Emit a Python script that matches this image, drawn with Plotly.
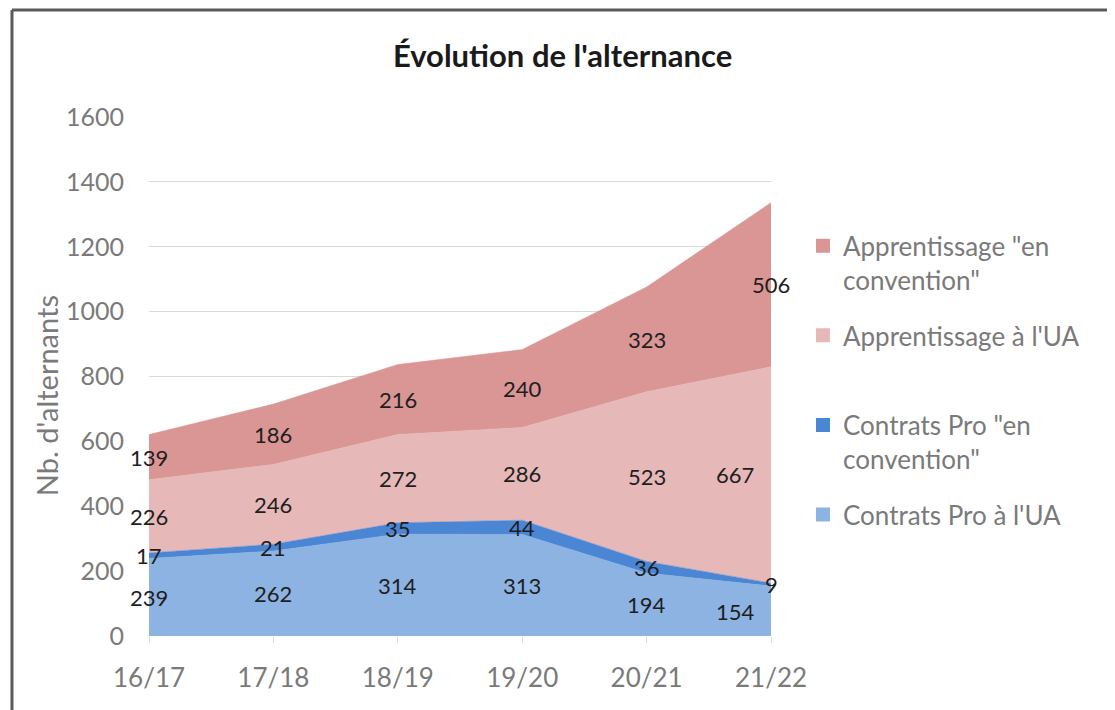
import plotly.graph_objects as go

# data
years = ['16/17', '17/18', '18/19', '19/20', '20/21', '21/22']
cp_ua = [239, 262, 314, 313, 194, 154]
cp_conv = [17, 21, 35, 44, 36, 9]
app_ua = [226, 246, 272, 286, 523, 667]
app_conv = [139, 186, 216, 240, 323, 506]

# bottom -> top of the stack
series = [
    ("Contrats Pro à l'UA", cp_ua, '#8db3e2'),
    ('Contrats Pro "en convention"', cp_conv, '#4a86d4'),
    ("Apprentissage à l'UA", app_ua, '#e6b9b8'),
    ('Apprentissage "en convention"', app_conv, '#d99694'),
]
# legend text as wrapped in the original (each entry takes two lines)
legend_text = [
    "Contrats Pro à l'UA<br> ",
    'Contrats Pro "en<br>convention"',
    "Apprentissage à l'UA<br> ",
    'Apprentissage "en<br>convention"',
]

fig = go.Figure()
for name, vals, col in series:
    fig.add_trace(go.Scatter(
        x=years, y=vals, name=name, mode='lines',
        stackgroup='one', line=dict(width=0.5, color=col),
        fillcolor=col, showlegend=False))

# small square legend keys, top entry first
for rank, (name, vals, col) in enumerate(reversed(series)):
    fig.add_trace(go.Scatter(
        x=[None], y=[None], mode='markers',
        name=legend_text[len(series) - 1 - rank],
        marker=dict(symbol='square', size=14, color=col),
        legendgroup=str(rank), legendrank=rank + 1))

# data labels in the middle of each band
base = [0] * len(years)
for name, vals, col in series:
    for i, v in enumerate(vals):
        shift = 0
        if i == len(years) - 1 and vals in (cp_ua, app_ua):
            shift = -36
        fig.add_annotation(x=years[i], y=base[i] + v / 2, text=str(v),
                           showarrow=False, xshift=shift,
                           font=dict(size=22, color='#1e1e1e'))
    base = [b + v for b, v in zip(base, vals)]

# y axis title placed like the Excel one
fig.add_annotation(x=-0.1656, y=0.464, xref='paper', yref='paper',
                   xanchor='center', yanchor='middle',
                   text="Nb. d'alternants", textangle=-90, showarrow=False,
                   font=dict(size=29, color='#7a7a7a'))

# chart border
line = dict(color='#5a5a5a', width=3)
fig.add_shape(type='line', xref='paper', yref='paper',
              x0=-0.2203, x1=-0.2203, y0=-0.2, y1=1.206, line=line)
fig.add_shape(type='line', xref='paper', yref='paper',
              x0=-0.2203, x1=1.5498, y0=1.206, y1=1.206, line=line)
fig.add_shape(type='line', xref='paper', yref='paper',
              x0=1.5498, x1=1.5498, y0=-0.2, y1=1.206,
              line=dict(color='#c8c8c8', width=1.5))

fig.update_layout(
    width=1107, height=702,
    margin=dict(l=141, r=344, t=109, b=74),
    paper_bgcolor='white', plot_bgcolor='white',
    font=dict(family='Lato, Carlito, sans-serif', color='#7a7a7a'),
    title=dict(text="<b>Évolution de l'alternance</b>", x=0.501, xref='container',
               xanchor='center', y=0.932, yanchor='middle',
               font=dict(size=31, color='#1a1a1a')),
    xaxis=dict(range=[0, 5], showgrid=False, ticks='outside', ticklen=6,
               tickcolor='#d9d9d9', showline=False, zeroline=False,
               ticklabelstandoff=13, tickfont=dict(size=26, color='#7a7a7a')),
    yaxis=dict(range=[0, 1600], dtick=200, showgrid=True, gridcolor='#d9d9d9',
               gridwidth=1, zeroline=False, showline=False,
               ticklabelstandoff=24, tickfont=dict(size=25, color='#7a7a7a')),
    legend=dict(x=1.0514, xanchor='left', y=0.797, yanchor='top',
                traceorder='grouped', tracegroupgap=19, valign='top',
                font=dict(size=26, color='#7a7a7a')),
)

fig.write_html("out.html")
